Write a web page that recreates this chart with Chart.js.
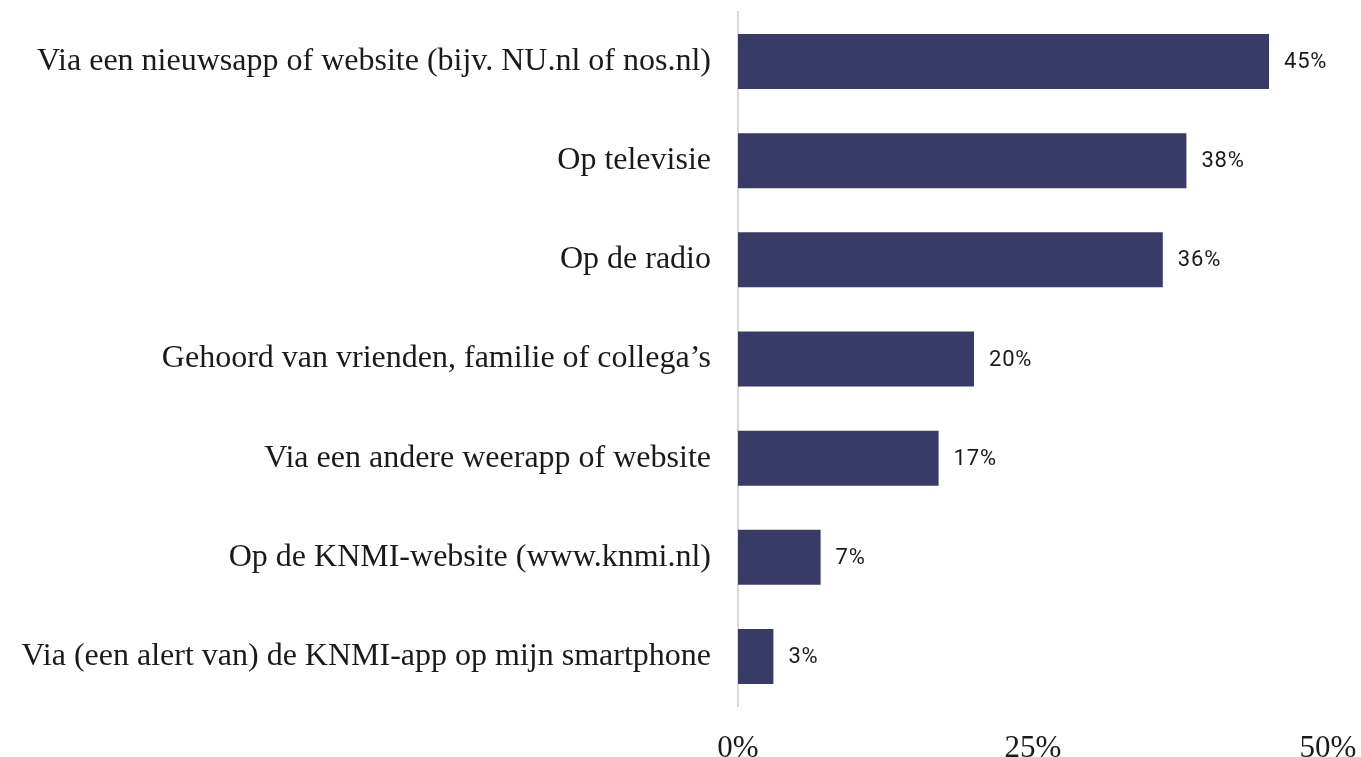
<!DOCTYPE html>
<html>
<head>
<meta charset="utf-8">
<script src="https://cdn.jsdelivr.net/npm/chart.js@4/dist/chart.umd.min.js"></script>
<style>
  html, body { margin: 0; padding: 0; background: #ffffff; }
  #wrap { width: 1361px; height: 757px; position: relative; }
</style>
</head>
<body>
<div id="wrap"><canvas id="c"></canvas></div>
<script>
const categories = [
  "Via een nieuwsapp of website (bijv. NU.nl of nos.nl)",
  "Op televisie",
  "Op de radio",
  "Gehoord van vrienden, familie of collega’s",
  "Via een andere weerapp of website",
  "Op de KNMI-website (www.knmi.nl)",
  "Via (een alert van) de KNMI-app op mijn smartphone"
];
const values = [45, 38, 36, 20, 17, 7, 3];
const xTicks = [0, 25, 50];

const serif = "'Liberation Serif', 'DejaVu Serif', serif";

const valueLabels = {
  id: 'valueLabels',
  afterDatasetsDraw(chart) {
    const ctx = chart.ctx;
    const meta = chart.getDatasetMeta(0);
    ctx.save();
    ctx.font = "22px Roboto, 'Noto Sans', sans-serif";
    try { ctx.letterSpacing = '0.8px'; } catch (e) {}
    ctx.fillStyle = '#1a1a1a';
    ctx.textAlign = 'left';
    ctx.textBaseline = 'middle';
    meta.data.forEach((el, i) => {
      ctx.fillText(values[i] + '%', el.x + 15, el.y + 1);
    });
    ctx.restore();
  }
};

new Chart(document.getElementById('c'), {
  type: 'bar',
  data: {
    labels: categories,
    datasets: [{
      data: values,
      backgroundColor: '#383b66',
      borderWidth: 0,
      categoryPercentage: 0.555,
      barPercentage: 1
    }]
  },
  options: {
    indexAxis: 'y',
    responsive: true,
    maintainAspectRatio: false,
    animation: false,
    layout: { padding: { top: 12, right: 33, bottom: 0, left: 0 } },
    plugins: {
      legend: { display: false },
      tooltip: { enabled: false }
    },
    scales: {
      x: {
        min: 0,
        max: 50,
        afterBuildTicks(scale) { scale.ticks = xTicks.map(v => ({ value: v })); },
        afterFit(scale) {
          scale.height = 51;
          scale.paddingLeft = 0;
          scale.paddingRight = 0;
          scale.paddingTop = 0;
          scale.paddingBottom = 0;
        },
        ticks: {
          callback: v => v + '%',
          font: { family: serif, size: 31, lineHeight: 0.7 },
          color: '#1a1a1a',
          padding: 24,
          maxRotation: 0
        },
        grid: { display: false },
        border: { display: false }
      },
      y: {
        afterFit(scale) {
          scale.width = 738;
          scale.paddingTop = 0;
          scale.paddingBottom = 0;
          scale.paddingLeft = 0;
          scale.paddingRight = 0;
        },
        ticks: {
          font: { family: serif, size: 32, lineHeight: 0.2 },
          color: '#1a1a1a',
          padding: 0,
          autoSkip: false
        },
        grid: {
          display: true,
          drawOnChartArea: false,
          drawTicks: true,
          tickLength: 27,
          tickColor: 'rgba(0,0,0,0)',
          color: 'rgba(0,0,0,0)'
        },
        border: { display: true, color: '#d9d9d9', width: 2 }
      }
    }
  },
  plugins: [valueLabels]
});
</script>
</body>
</html>
